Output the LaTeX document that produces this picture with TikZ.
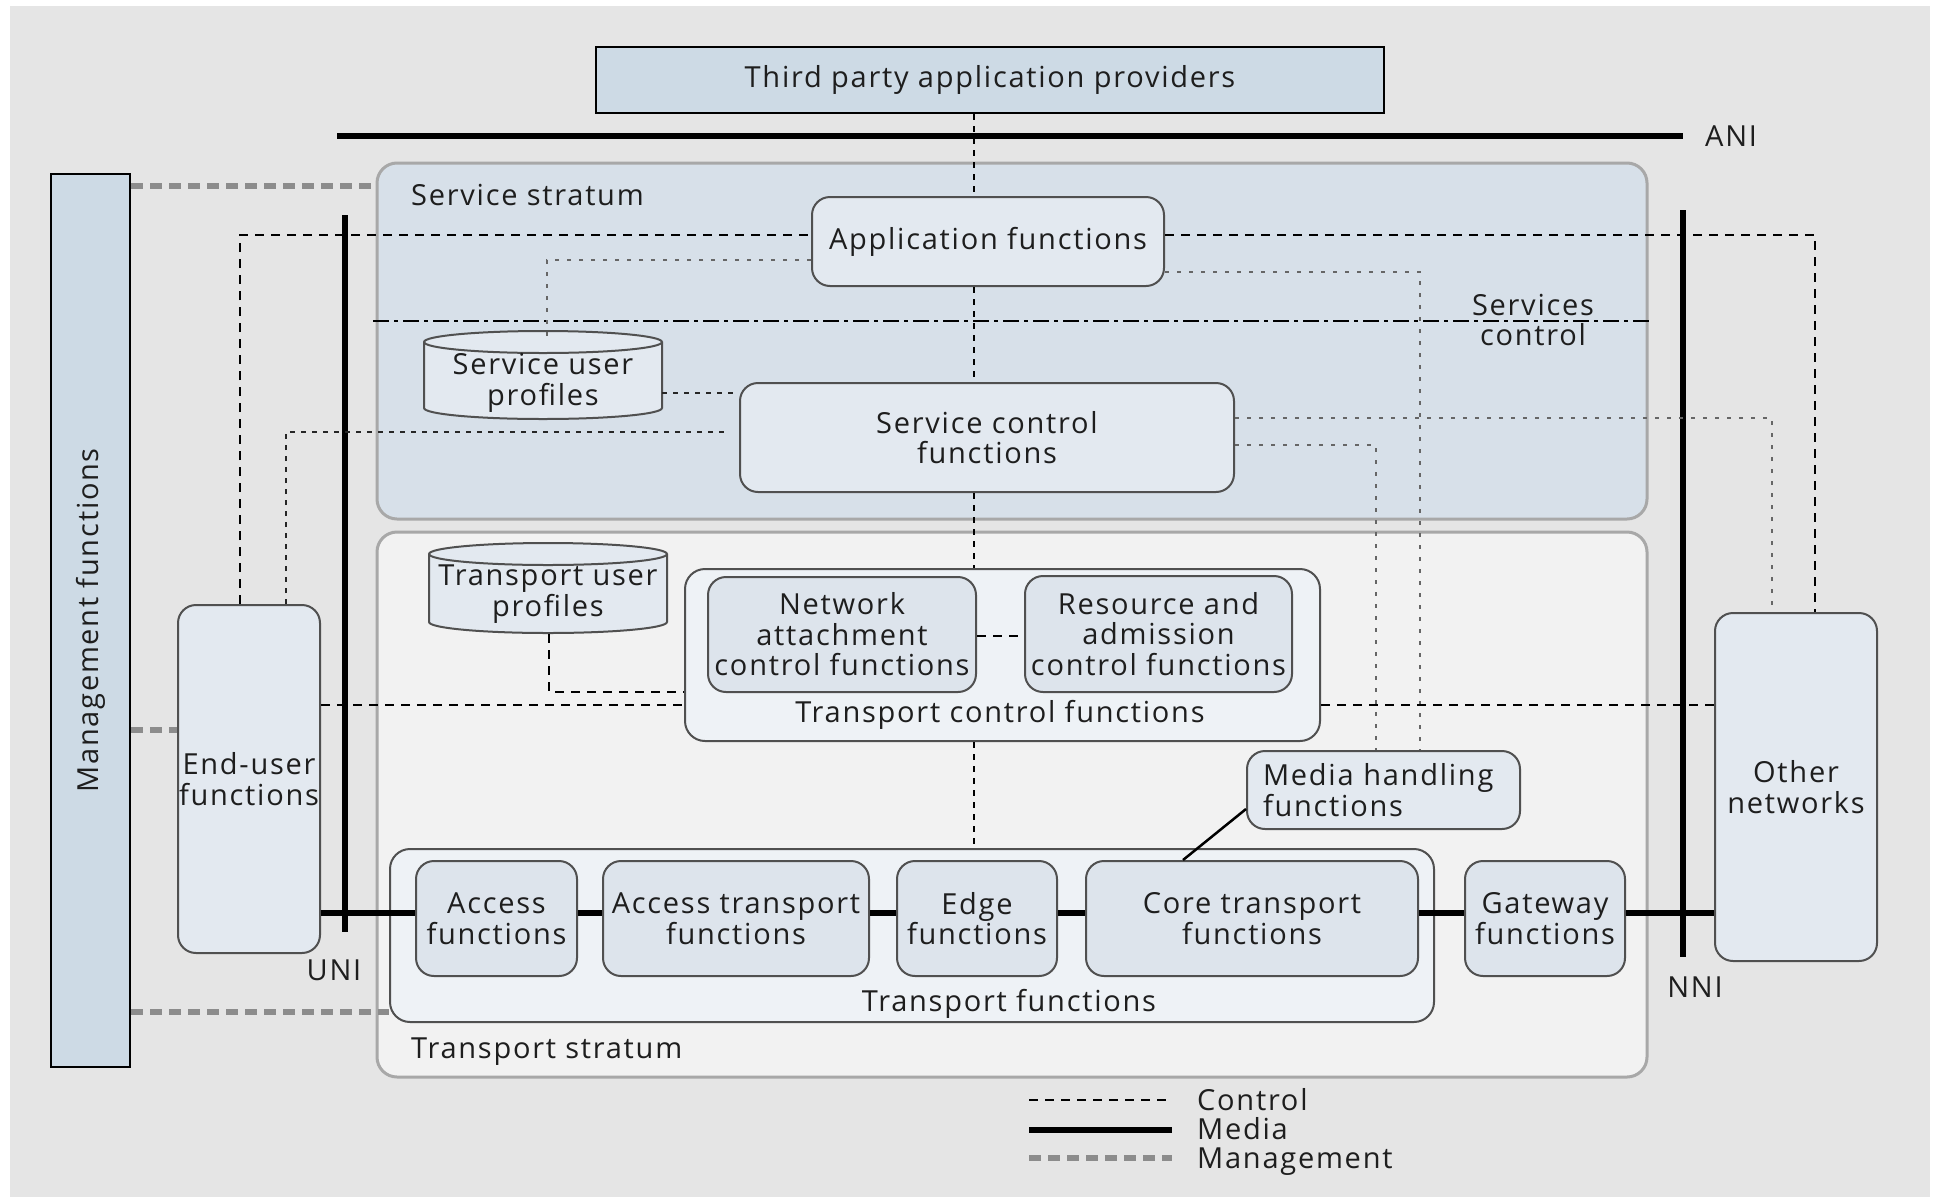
\documentclass[tikz,border=0pt]{standalone}
\usepackage{fontspec}
\setmainfont[LetterSpace=6]{Open Sans}
\usetikzlibrary{calc}

\definecolor{bgc}{HTML}{E5E5E5}
\definecolor{ssfill}{HTML}{D7E0E9}
\definecolor{tsfill}{HTML}{F2F2F2}
\definecolor{strb}{HTML}{A8A8A8}
\definecolor{plainf}{HTML}{CDDAE5}
\definecolor{nodef}{HTML}{E3E9F0}
\definecolor{innerf}{HTML}{DDE4EC}
\definecolor{contf}{HTML}{EEF2F6}
\definecolor{bordc}{HTML}{505050}
\definecolor{txtc}{HTML}{1E1E1E}
\definecolor{mgmtc}{HTML}{8C8C8C}
\definecolor{ctrlgc}{HTML}{666666}

\begin{document}
\begin{tikzpicture}[x=1pt,y=-1pt,
  txt/.style={font=\fontsize{29}{30.5}\selectfont, text=txtc, inner sep=0pt},
  fn/.style={txt, draw=bordc, line width=2pt, fill=nodef, rounded corners=18pt, align=center},
  plainbox/.style={txt, draw=black, line width=2.5pt, fill=plainf},
  stratum/.style={draw=strb, line width=3pt, rounded corners=20pt, inner sep=0pt},
  cont/.style={draw=bordc, line width=2pt, fill=contf, rounded corners=20pt, inner sep=0pt},
  cylbody/.style={draw=bordc, line width=2pt, fill=nodef},
  ctrl/.style={draw=black, line width=1.8pt, dash pattern=on 9pt off 7pt},
  ctrld/.style={draw=black!85, line width=1.8pt, dash pattern=on 5pt off 6pt},
  ctrlc/.style={draw=black, line width=1.8pt, dash pattern=on 6pt off 6pt},
  ctrlg/.style={draw=ctrlgc, line width=2.2pt, dash pattern=on 4pt off 8pt},
  sctl/.style={draw=black, line width=1.8pt, dash pattern=on 16pt off 5pt on 4pt off 5pt},
  medialine/.style={draw=black, line width=6pt},
  ifline/.style={draw=black, line width=6.5pt},
  mgmtline/.style={draw=mgmtc, line width=6pt, dash pattern=on 12pt off 7pt},
  hlink/.style={draw=black, line width=2.5pt}
]
\useasboundingbox (0,0) rectangle (1937,1197);
\fill[white] (0,0) rectangle (1937,1197);
\fill[bgc] (10,6) rectangle (1930,1197);

% strata
\node[stratum, fill=ssfill, minimum width=1270pt, minimum height=356pt] (ss) at (1012,341) {};
\node[stratum, fill=tsfill, minimum width=1270pt, minimum height=545pt] (ts) at (1012,804.5) {};
\node[txt, anchor=base west] (sslbl) at (411,205) {Service stratum};
\node[txt, anchor=base west] (tslbl) at (411,1058) {Transport stratum};

% outer boxes
\node[plainbox, minimum width=788pt, minimum height=66pt] (tpa) at (990,80) {Third party application providers};
\node[plainbox, minimum width=79pt, minimum height=893pt] (mgmt) at (90.5,620.5) {};
\node[txt, rotate=90] (mgmtlbl) at (mgmt.center) {Management functions};

% interfaces
\draw[ifline] (337,136) -- (1683,136);
\node[txt, anchor=west] (ani) at (1705,136) {ANI};
\draw[ifline] (345,215) -- (345,932);
\node[txt] (uni) at (334,970) {UNI};
\draw[ifline] (1683,210) -- (1683,957);
\node[txt] (nni) at (1695,987) {NNI};

% service stratum
\node[fn, minimum width=352pt, minimum height=89pt] (app) at (988,241.5) {Application functions};
\node[fn, minimum width=494pt, minimum height=109pt] (scf) at (987,437.5) {Service control\\functions};
\filldraw[cylbody] (424,342) -- (424,408) arc[start angle=180, end angle=360, x radius=119pt, y radius=11pt]
  -- (662,342) arc[start angle=0, end angle=180, x radius=119pt, y radius=11pt] -- cycle;
\draw[draw=bordc, line width=2pt] (424,342) arc[start angle=180, end angle=360, x radius=119pt, y radius=11pt];
\node[txt, align=center, minimum width=238pt, minimum height=88pt] (sup) at (543,383) {Service user\\profiles};
\draw[sctl] (373,321) -- (1653,321);
\node[txt, align=center] (sctllbl) at (1533,320) {Services\\control};

% transport stratum
\filldraw[cylbody] (429,554) -- (429,622) arc[start angle=180, end angle=360, x radius=119pt, y radius=11pt]
  -- (667,554) arc[start angle=0, end angle=180, x radius=119pt, y radius=11pt] -- cycle;
\draw[draw=bordc, line width=2pt] (429,554) arc[start angle=180, end angle=360, x radius=119pt, y radius=11pt];
\node[txt, align=center, minimum width=238pt, minimum height=80pt] (tup) at (548,594) {Transport user\\profiles};

\node[cont, minimum width=635pt, minimum height=172pt] (tcf) at (1002.5,655) {};
\node[txt] (tcflbl) at (1000,715) {Transport control functions};
\node[fn, fill=innerf, minimum width=268pt, minimum height=115pt] (nacf) at (842,634.5) {Network\\attachment\\control functions};
\node[fn, fill=innerf, minimum width=267pt, minimum height=116pt] (racf) at (1158.5,634) {Resource and\\admission\\control functions};

\node[fn, minimum width=142pt, minimum height=348pt] (eu) at (249,779) {End-user\\functions};
\node[fn, minimum width=162pt, minimum height=348pt] (on) at (1796,787) {Other\\networks};
\node[fn, minimum width=273pt, minimum height=78pt, text width=241pt, align=left] (mhf) at (1383.5,790) {Media handling\\functions};

\node[cont, minimum width=1044pt, minimum height=173pt] (tf) at (912,935.5) {};
\node[txt] (tflbl) at (1009,1004) {Transport functions};
\node[fn, fill=innerf, minimum width=161pt, minimum height=115pt] (acc) at (496.5,918.5) {Access\\functions};
\node[fn, fill=innerf, minimum width=266pt, minimum height=115pt] (atf) at (736,918.5) {Access transport\\functions};
\node[fn, fill=innerf, minimum width=160pt, minimum height=115pt] (edge) at (977,918.5) {Edge\\functions};
\node[fn, fill=innerf, minimum width=332pt, minimum height=115pt] (core) at (1252,918.5) {Core transport\\functions};
\node[fn, fill=innerf, minimum width=160pt, minimum height=115pt] (gw) at (1545,918.5) {Gateway\\functions};

% routing points
\coordinate (cx) at (974,0);
\coordinate (k1) at (240,235);
\coordinate (k2) at (1815,235);
\coordinate (k3) at (286,432);
\coordinate (g1) at (547,260);
\coordinate (g2) at (1420,272);
\coordinate (g3) at (1772,418);
\coordinate (g4) at (1376,445);
\coordinate (d1) at (0,393);
\coordinate (t1) at (549,692);
\coordinate (t2) at (0,705);
\coordinate (t3) at (0,636);
\coordinate (m) at (0,913);
\coordinate (n1) at (0,186);
\coordinate (n2) at (0,730);
\coordinate (n3) at (0,1012);

% control connectors
\draw[ctrlc] (tpa.south -| cx) -- (app.north -| cx);
\draw[ctrlc] (app.south -| cx) -- (scf.north -| cx);
\draw[ctrlc] (scf.south -| cx) -- (tcf.north -| cx);
\draw[ctrlc] (tcf.south -| cx) -- (tf.north -| cx);
\draw[ctrl] (eu.north -| k1) |- (app.west |- k1);
\draw[ctrl] (app.east |- k2) -| (on.north -| k2);
\draw[ctrld, shorten >=14pt] (eu.north -| k3) |- (scf.west |- k3);
\draw[ctrlg] (app.west |- g1) -| (sup.north -| g1);
\draw[ctrlg] (app.east |- g2) -| (mhf.north -| g2);
\draw[ctrlg] (scf.east |- g3) -| (on.north -| g3);
\draw[ctrlg] (scf.east |- g4) -| (mhf.north -| g4);
\draw[ctrld] (sup.east |- d1) -- (scf.west |- d1);
\draw[ctrl] (tup.south -| t1) |- (tcf.west |- t1);
\draw[ctrl] (eu.east |- t2) -- (tcf.west |- t2);
\draw[ctrl] (tcf.east |- t2) -- (on.west |- t2);
\draw[ctrl] (nacf.east |- t3) -- (racf.west |- t3);

% media connectors
\draw[medialine] (eu.east |- m) -- (acc.west |- m);
\draw[medialine] (acc.east |- m) -- (atf.west |- m);
\draw[medialine] (atf.east |- m) -- (edge.west |- m);
\draw[medialine] (edge.east |- m) -- (core.west |- m);
\draw[medialine] (core.east |- m) -- (gw.west |- m);
\draw[medialine] (gw.east |- m) -- (on.west |- m);
\draw[hlink] ($(mhf.south west)+(0,-21)$) -- ($(core.north west)+(98,0)$);

% management connectors
\draw[mgmtline] (mgmt.east |- n1) -- (ss.west |- n1);
\draw[mgmtline] (mgmt.east |- n2) -- (eu.west |- n2);
\draw[mgmtline] (mgmt.east |- n3) -- (tf.west |- n3);

% legend
\draw[ctrl] (1029,1100) -- (1172,1100);
\draw[medialine] (1029,1130) -- (1172,1130);
\draw[mgmtline] (1029,1158) -- (1172,1158);
\node[txt, anchor=base west] (lgc) at (1197,1110) {Control};
\node[txt, anchor=base west] (lgm) at (1197,1139) {Media};
\node[txt, anchor=base west] (lgg) at (1197,1168) {Management};
\end{tikzpicture}
\end{document}
